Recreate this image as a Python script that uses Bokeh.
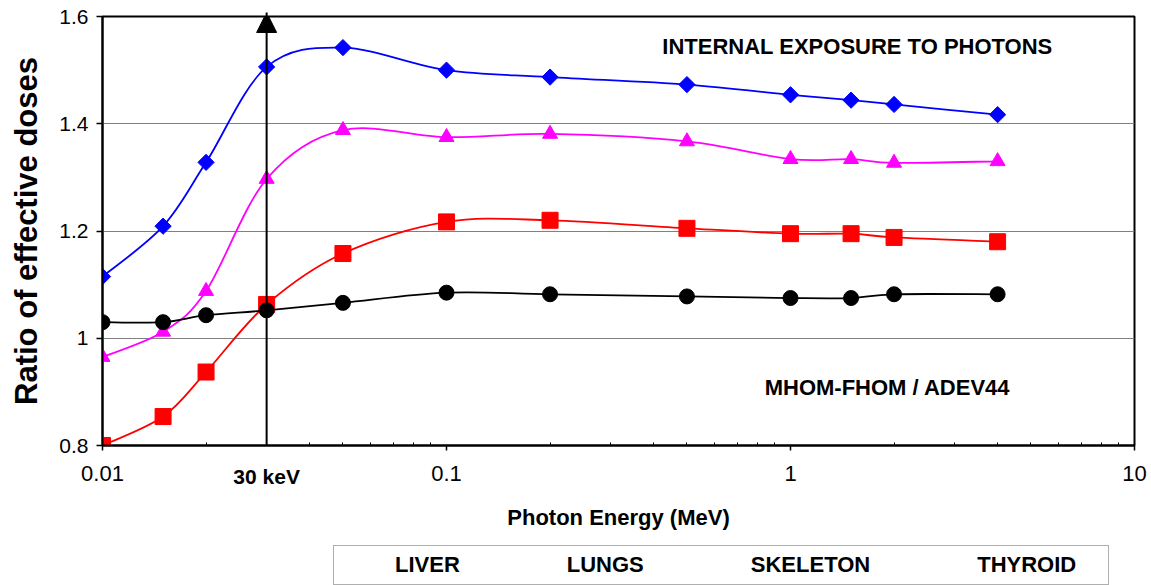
import numpy as np
from bokeh.plotting import figure
from bokeh.layouts import column
from bokeh.models import (FixedTicker, CustomJSTickFormatter, Label, Arrow, NormalHead,
                          Legend, LegendItem, ColumnDataSource, LogAxis)
from bokeh.embed import file_html
from bokeh.resources import INLINE

# ---------------- data ----------------
energy = [0.01, 0.015, 0.02, 0.03, 0.05, 0.1, 0.2, 0.5, 1, 1.5, 2, 4]
liver = [1.115, 1.209, 1.328, 1.506, 1.542, 1.500, 1.487, 1.473, 1.454, 1.444, 1.436, 1.417]
lungs = [0.800, 0.854, 0.937, 1.063, 1.158, 1.217, 1.220, 1.205, 1.195, 1.195, 1.188, 1.180]
skeleton = [0.965, 1.012, 1.088, 1.297, 1.388, 1.375, 1.381, 1.367, 1.334, 1.334, 1.327, 1.330]
thyroid = [1.030, 1.030, 1.043, 1.052, 1.066, 1.085, 1.082, 1.078, 1.075, 1.075, 1.082, 1.082]

series_names = ["LIVER", "LUNGS", "SKELETON", "THYROID"]
series_values = [liver, lungs, skeleton, thyroid]
series_colors = ["#0000FF", "#FF0000", "#FF00FF", "#000000"]
series_markers = ["square", "square", "triangle", "circle"]
series_angles = [np.pi / 4, 0, 0, 0]
series_sizes = [11.5, 16, 15, 15]

x_ticks = [0.01, 0.1, 1, 10]
x_minor = [0.02, 0.03, 0.04, 0.05, 0.06, 0.07, 0.08, 0.09,
           0.2, 0.3, 0.4, 0.5, 0.6, 0.7, 0.8, 0.9,
           2, 3, 4, 5, 6, 7, 8, 9]
y_ticks = [0.8, 1.0, 1.2, 1.4, 1.6]
y_grid = [1.0, 1.2, 1.4]
marker_energy = 0.03
marker_label = "30 keV"
title_text = "INTERNAL EXPOSURE TO PHOTONS"
note_text = "MHOM-FHOM / ADEV44"

FONT = "Liberation Sans"


def smooth_segments(xs, ys):
    """Excel-style smoothed line: cubic Bezier control points (Catmull-Rom)
    computed in log10(x) space, so the curve passes through every data point."""
    P = np.column_stack([np.log10(xs), np.asarray(ys, float)])
    n = len(P)
    out = {k: [] for k in ("x0", "y0", "x1", "y1", "cx0", "cy0", "cx1", "cy1")}
    for i in range(n - 1):
        p0, p1, p2, p3 = P[max(i - 1, 0)], P[i], P[i + 1], P[min(i + 2, n - 1)]
        c1 = p1 + (p2 - p0) / 6.0
        c2 = p2 - (p3 - p1) / 6.0
        out["x0"].append(10 ** p1[0]); out["y0"].append(p1[1])
        out["x1"].append(10 ** p2[0]); out["y1"].append(p2[1])
        out["cx0"].append(10 ** c1[0]); out["cy0"].append(c1[1])
        out["cx1"].append(10 ** c2[0]); out["cy1"].append(c2[1])
    return out


p = figure(width=None, height=None, frame_width=1032, frame_height=429,
           x_axis_type="log",
           x_range=(x_ticks[0], x_ticks[-1]), y_range=(y_ticks[0], y_ticks[-1]),
           output_backend="svg", toolbar_location=None,
           min_border_left=102, min_border_right=17, min_border_top=16, min_border_bottom=100)
p.background_fill_color = "white"
p.border_fill_color = "white"
p.outline_line_color = "black"
p.outline_line_width = 2

# grid
p.xgrid.visible = False
p.ygrid.ticker = FixedTicker(ticks=y_grid)
p.ygrid.grid_line_color = "#808080"
p.ygrid.grid_line_width = 1

# x axis
xa = p.xaxis[0]
xa.ticker = FixedTicker(ticks=x_ticks, minor_ticks=x_minor)
xa.formatter = CustomJSTickFormatter(code="return tick.toString()")
xa.axis_line_width = 2
xa.major_tick_in = 0
xa.major_tick_out = 5
xa.minor_tick_in = 3
xa.minor_tick_out = 0
xa.major_tick_line_width = 1.5
xa.minor_tick_line_width = 1
xa.major_label_text_font = FONT
xa.major_label_text_font_size = "22px"
xa.major_label_text_color = "black"
xa.major_label_standoff = 15
xa.axis_label = "Photon Energy (MeV)"
xa.axis_label_text_font = FONT
xa.axis_label_text_font_style = "bold"
xa.axis_label_text_font_size = "22px"
xa.axis_label_text_color = "black"
xa.axis_label_standoff = 21

# y axis
ya = p.yaxis[0]
ya.ticker = FixedTicker(ticks=y_ticks, minor_ticks=[])
ya.formatter = CustomJSTickFormatter(code="return tick.toString()")
ya.axis_line_width = 2
ya.major_tick_in = 0
ya.major_tick_out = 6
ya.major_tick_line_width = 1.5
ya.minor_tick_line_color = None
ya.major_label_text_font = FONT
ya.major_label_text_font_size = "21px"
ya.major_label_text_color = "black"
ya.major_label_standoff = 8
ya.axis_label = "Ratio of effective doses"
ya.axis_label_text_font = FONT
ya.axis_label_text_font_style = "bold"
ya.axis_label_text_font_size = "31px"
ya.axis_label_text_color = "black"
ya.axis_label_standoff = 12

# "30 keV" tick label: a bare axis whose only label sits on the bottom label row
kev_axis = LogAxis(ticker=FixedTicker(ticks=[marker_energy], minor_ticks=[]),
                   formatter=CustomJSTickFormatter(args=dict(label=marker_label),
                                                   code="return label"),
                   axis_line_color=None, major_tick_line_color=None,
                   minor_tick_line_color=None, major_tick_in=0, major_tick_out=0,
                   minor_tick_in=0, minor_tick_out=0, major_label_standoff=-471,
                   major_label_text_font=FONT, major_label_text_font_style="bold",
                   major_label_text_font_size="21px", major_label_text_color="black")
p.add_layout(kev_axis, "above")

# 30 keV marker arrow
p.add_layout(Arrow(end=NormalHead(size=20, fill_color="black", line_color="black"),
                   x_start=marker_energy, y_start=y_ticks[0],
                   x_end=marker_energy, y_end=y_ticks[-1] + 0.0075,
                   line_color="black", line_width=2))

for name, vals, col, mk, ang, sz in zip(series_names, series_values, series_colors,
                                        series_markers, series_angles, series_sizes):
    src = ColumnDataSource(smooth_segments(energy, vals))
    p.bezier(x0="x0", y0="y0", x1="x1", y1="y1", cx0="cx0", cy0="cy0",
             cx1="cx1", cy1="cy1", source=src, line_color=col, line_width=1.8)
    p.scatter(energy, vals, marker=mk, angle=ang, size=sz,
              fill_color=col, line_color=col)

# texts inside the plot
p.add_layout(Label(x=755, y=399, x_units="screen", y_units="screen", text=title_text,
                   text_align="center", text_baseline="middle", text_font=FONT,
                   text_font_style="bold", text_font_size="22px", text_color="black"))
p.add_layout(Label(x=785, y=58, x_units="screen", y_units="screen", text=note_text,
                   text_align="center", text_baseline="middle", text_font=FONT,
                   text_font_style="bold", text_font_size="22px", text_color="black"))

# ---------------- legend strip below the chart ----------------
leg = figure(width=1151, height=40, x_range=(0, 1), y_range=(0, 1),
             output_backend="svg", toolbar_location=None,
             x_axis_location=None, y_axis_location=None,
             min_border_left=0, min_border_right=0, min_border_top=0, min_border_bottom=0)
leg.xgrid.visible = False
leg.ygrid.visible = False
leg.outline_line_color = None
leg.background_fill_color = "white"
leg.border_fill_color = "white"

items = []
for name, col, mk, ang in zip(series_names, series_colors, series_markers, series_angles):
    ln = leg.line(x=[], y=[], line_color=col, line_width=1.8)
    mkr = leg.scatter(x=[], y=[], marker=mk, angle=ang, size=15,
                      fill_color=col, line_color=col)
    items.append(LegendItem(label=name, renderers=[ln, mkr]))

legend = Legend(items=items, orientation="horizontal", location=(231, 0),
                glyph_width=55, glyph_height=38, label_standoff=6, spacing=46,
                padding=0, margin=0, border_line_color="#606060", border_line_width=1.5,
                background_fill_alpha=0,
                title=" ", title_location="right", title_text_font_size="1px",
                title_standoff=31,
                label_text_font=FONT, label_text_font_style="bold",
                label_text_font_size="22px", label_text_color="black")
leg.add_layout(legend)

layout = column(p, leg, spacing=0)
open("out.html", "w").write(file_html(layout, INLINE))
